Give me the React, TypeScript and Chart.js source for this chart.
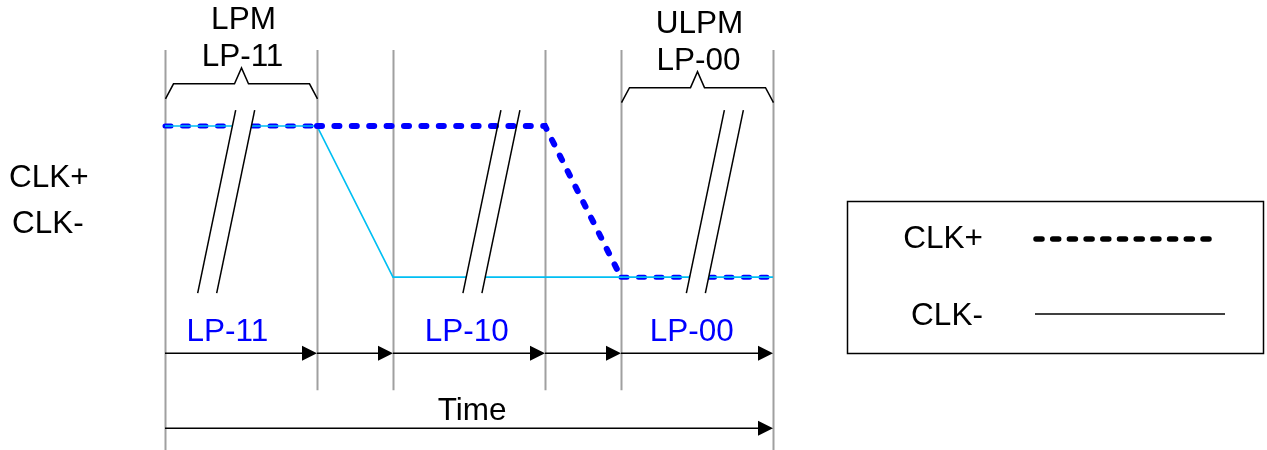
import React, { useEffect, useRef } from "react";
import { Chart, registerables } from "chart.js";

Chart.register(...registerables);

// ---- Diagram data ----
const timeBoundaries = [0, 2, 3, 5, 6, 8];
const clkPlusX = [0, 2, 5, 6, 8];
const clkPlusY = [1, 1, 1, 0, 0];
const clkMinusX = [0, 2, 3, 8];
const clkMinusY = [1, 1, 0, 0];
const stateLabels = ["LP-11", "LP-10", "LP-00"];
const stateLabelX = [0.82, 3.97, 6.93];
const modeNames = ["LPM", "ULPM"];
const modeStates = ["LP-11", "LP-00"];
const modeStart = [0, 6];
const modeEnd = [2, 8];
const breakTopX = [0.93, 4.42, 7.36];
const breakMaskTop = [1.106, 0.5, 1.106];
const signalNames = ["CLK+", "CLK-"];
const timeLabel = "Time";

const BLUE = "#0000FF";
const CYAN = "#00BFF3";
const FS = 31.5;
const FONT = `${FS}px 'Liberation Sans', Arial, sans-serif`;

const BREAK_TOP = 1.106;
const BREAK_BOTTOM = -0.106;

function breakX(xTop: number, y: number) {
  return xTop - 0.5 * (BREAK_TOP - y) / (BREAK_TOP - BREAK_BOTTOM);
}

const diagramPlugin = {
  id: "diagram",
  beforeDatasetsDraw(chart: any) {
    const ctx = chart.ctx as CanvasRenderingContext2D;
    const xs = chart.scales.x;
    const ys = chart.scales.y;
    ctx.save();
    ctx.strokeStyle = "#A0A0A0";
    ctx.lineWidth = 2;
    timeBoundaries.forEach((t, i) => {
      const isEnd = i === 0 || i === timeBoundaries.length - 1;
      const x = Math.round(xs.getPixelForValue(t)) + 0.5;
      ctx.beginPath();
      ctx.moveTo(x, ys.getPixelForValue(1.503));
      ctx.lineTo(x, isEnd ? chart.height : ys.getPixelForValue(-0.748));
      ctx.stroke();
    });
    ctx.restore();
  },
  afterDatasetsDraw(chart: any) {
    const ctx = chart.ctx as CanvasRenderingContext2D;
    const xs = chart.scales.x;
    const ys = chart.scales.y;
    const P = (x: number, y: number): [number, number] => [xs.getPixelForValue(x), ys.getPixelForValue(y)];
    ctx.save();
    breakTopX.forEach((x0, i) => {
      const mt = breakMaskTop[i];
      const pts = [
        P(breakX(x0, mt), mt),
        P(breakX(x0 + 0.25, mt), mt),
        P(breakX(x0 + 0.25, BREAK_BOTTOM), BREAK_BOTTOM),
        P(breakX(x0, BREAK_BOTTOM), BREAK_BOTTOM),
      ];
      ctx.fillStyle = "#FFFFFF";
      ctx.beginPath();
      ctx.moveTo(pts[0][0], pts[0][1]);
      for (let k = 1; k < pts.length; k++) ctx.lineTo(pts[k][0], pts[k][1]);
      ctx.closePath();
      ctx.fill();
      ctx.strokeStyle = "#000000";
      ctx.lineWidth = 1.5;
      [x0, x0 + 0.25].forEach((xt) => {
        const a = P(xt, BREAK_TOP);
        const b = P(breakX(xt, BREAK_BOTTOM), BREAK_BOTTOM);
        ctx.beginPath();
        ctx.moveTo(a[0], a[1]);
        ctx.lineTo(b[0], b[1]);
        ctx.stroke();
      });
    });
    ctx.restore();
  },
  afterDraw(chart: any) {
    const ctx = chart.ctx as CanvasRenderingContext2D;
    const xs = chart.scales.x;
    const ys = chart.scales.y;
    const X = (v: number) => xs.getPixelForValue(v);
    const Y = (v: number) => ys.getPixelForValue(v);
    ctx.save();
    ctx.font = FONT;
    const cap = FS * 0.358;

    // signal names on left
    ctx.fillStyle = "#000";
    ctx.textAlign = "left";
    ctx.textBaseline = "alphabetic";
    ctx.fillText(signalNames[0], 9, Y(0.669) + cap);
    ctx.fillText(signalNames[1], 12, Y(0.364) + cap);

    // mode brackets and labels
    const bracketBase = [1.18, 1.155];
    modeNames.forEach((name, i) => {
      const a = Math.round(X(modeStart[i])) + 0.5;
      const b = Math.round(X(modeEnd[i])) + 0.5;
      const c = (a + b) / 2;
      const yb = Y(bracketBase[i]);
      const yh = yb - 15;
      const yp = yb - 31;
      ctx.strokeStyle = "#000";
      ctx.lineWidth = 1.5;
      ctx.beginPath();
      ctx.moveTo(a, yb);
      ctx.lineTo(a + 8, yh);
      ctx.lineTo(c - 7, yh);
      ctx.lineTo(c, yp);
      ctx.lineTo(c + 7, yh);
      ctx.lineTo(b - 8, yh);
      ctx.lineTo(b, yb);
      ctx.stroke();
      ctx.textAlign = "center";
      ctx.fillStyle = "#000";
      ctx.fillText(name, c + 2, yb - 81 + cap);
      ctx.fillText(modeStates[i], c + 1, yb - 44 + cap);
    });

    // arrows
    const drawArrow = (x1: number, x2: number, y: number) => {
      ctx.strokeStyle = "#000";
      ctx.fillStyle = "#000";
      ctx.lineWidth = 1.5;
      ctx.beginPath();
      ctx.moveTo(x1, y);
      ctx.lineTo(x2 - 10, y);
      ctx.stroke();
      ctx.beginPath();
      ctx.moveTo(x2, y);
      ctx.lineTo(x2 - 15, y - 7.5);
      ctx.lineTo(x2 - 15, y + 7.5);
      ctx.closePath();
      ctx.fill();
    };
    for (let i = 0; i < timeBoundaries.length - 1; i++) {
      drawArrow(X(timeBoundaries[i]), X(timeBoundaries[i + 1]), Y(-0.503));
    }
    drawArrow(X(timeBoundaries[0]), X(timeBoundaries[timeBoundaries.length - 1]), Y(-1.0));

    // state labels
    ctx.fillStyle = BLUE;
    ctx.textAlign = "center";
    stateLabels.forEach((s, i) => {
      ctx.fillText(s, X(stateLabelX[i]), Y(-0.351) + cap);
    });

    // time label
    ctx.fillStyle = "#000";
    ctx.fillText(timeLabel, X(4.04), Y(-0.868) + cap);

    // legend box
    const lx1 = X(8.97), lx2 = X(14.45);
    const ly1 = Y(0.503), ly2 = Y(-0.503);
    ctx.strokeStyle = "#000";
    ctx.lineWidth = 1.5;
    ctx.strokeRect(Math.round(lx1) + 0.5, Math.round(ly1) + 0.5, Math.round(lx2 - lx1), Math.round(ly2 - ly1));
    ctx.textAlign = "center";
    ctx.fillText(signalNames[0], 943, 237 + cap);
    ctx.fillText(signalNames[1], 947, 314 + cap);
    ctx.lineCap = "round";
    ctx.lineWidth = 5.5;
    ctx.setLineDash([6, 10.7]);
    ctx.beginPath();
    ctx.moveTo(1036, 239);
    ctx.lineTo(1214, 239);
    ctx.stroke();
    ctx.setLineDash([]);
    ctx.lineCap = "butt";
    ctx.lineWidth = 1.5;
    ctx.beginPath();
    ctx.moveTo(1035, 314);
    ctx.lineTo(1225, 314);
    ctx.stroke();
    ctx.restore();
  },
};

function pts(xs: number[], ys: number[], keep: (x: number) => boolean) {
  const out: { x: number; y: number | null }[] = [];
  xs.forEach((x, i) => {
    if (keep(x)) out.push({ x, y: ys[i] });
  });
  return out;
}

export default function App() {
  const ref = useRef<HTMLCanvasElement | null>(null);
  useEffect(() => {
    document.body.style.margin = "0";
    if (!ref.current) return;
    const thick = pts(clkPlusX, clkPlusY, (x) => x >= 2 && x <= 6);
    const thinA = pts(clkPlusX, clkPlusY, (x) => x <= 2);
    const thinB = pts(clkPlusX, clkPlusY, (x) => x >= 6);
    const thin = [...thinA, { x: 4, y: null }, ...thinB];
    const minus = pts(clkMinusX, clkMinusY, () => true);
    const chart = new Chart(ref.current, {
      type: "line",
      data: {
        datasets: [
          {
            label: "CLK+",
            data: thick as any,
            borderColor: BLUE,
            borderWidth: 6,
            borderDash: [5, 12.4],
            borderCapStyle: "round",
            pointRadius: 0,
            tension: 0,
            clip: false as any,
          },
          {
            label: "CLK-",
            data: minus as any,
            borderColor: CYAN,
            borderWidth: 1.6,
            pointRadius: 0,
            tension: 0,
            clip: false as any,
          },
          {
            label: "CLK+ (thin)",
            data: thin as any,
            borderColor: BLUE,
            borderWidth: 5,
            borderDash: [6, 11.5],
            borderCapStyle: "round",
            pointRadius: 0,
            spanGaps: false,
            tension: 0,
            clip: false as any,
          },
        ],
      },
      options: {
        animation: false,
        responsive: false,
        parsing: false as any,
        layout: { padding: { left: 13, right: 0, top: 12.75, bottom: 21.75 } },
        scales: {
          x: { type: "linear", min: -2, max: 14.5, display: false },
          y: { type: "linear", min: -1, max: 1.75, display: false },
        },
        plugins: { legend: { display: false }, tooltip: { enabled: false } },
        events: [],
      },
      plugins: [diagramPlugin],
    });
    return () => chart.destroy();
  }, []);
  return (
    <div style={{ width: 1267, height: 450, background: "#fff" }}>
      <canvas ref={ref} width={1267} height={450} style={{ display: "block", width: 1267, height: 450 }} />
    </div>
  );
}
